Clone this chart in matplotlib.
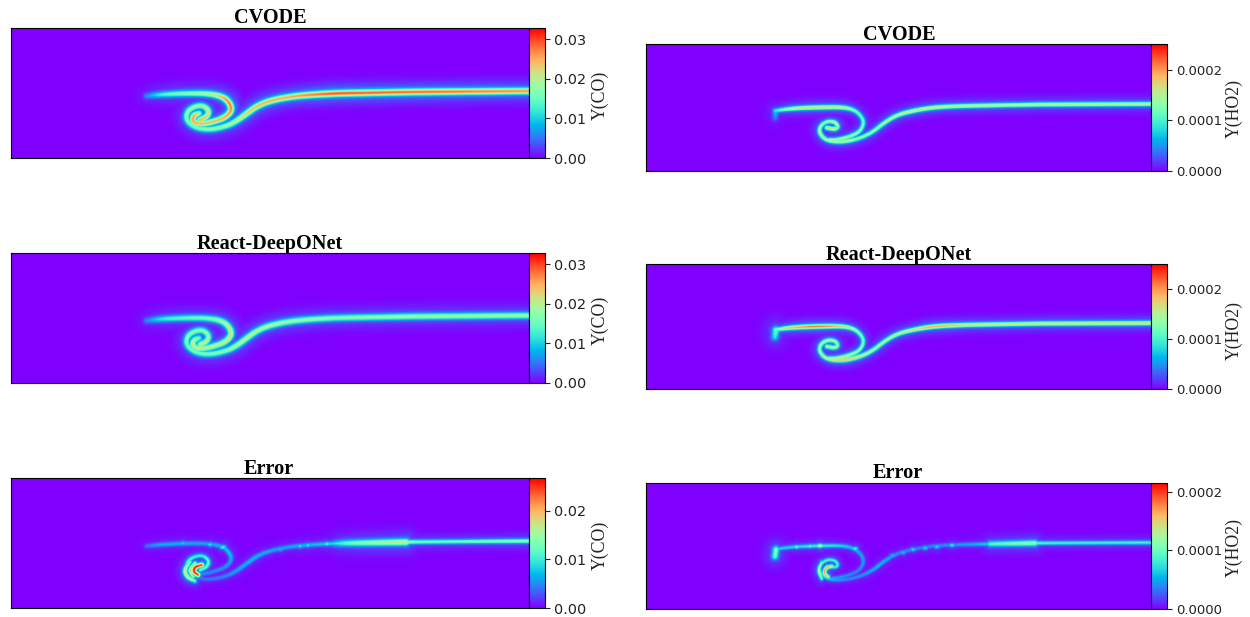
import numpy as np
import matplotlib
matplotlib.use('Agg')
import matplotlib.pyplot as plt

W, H = 1250, 617

# flame centreline, domain units
co_main_x = [518, 420, 399, 395, 332, 319, 299, 279, 259, 246, 236, 226, 216, 199, 184, 175, 176.3, 184, 192.3, 198, 196.3, 189]
co_main_y = [67, 66.2, 66, 65.9, 64.8, 64.3, 63.2, 61.3, 57.3, 52, 44.7, 37.3, 32, 28.2, 30.2, 38, 46.8, 51.8, 52.5, 47.3, 41.3, 38]
co_arm_x = [135.7, 152.3, 179, 199, 212.3, 219, 220.7, 214, 202.3, 192.3, 184, 181.3, 183.3, 188.3]
co_arm_y = [62, 63.7, 64.7, 64.3, 61.2, 54.7, 47.3, 40.3, 36.3, 34, 34.7, 38.7, 43, 44.7]
co_arc1_x = [190.7, 184, 182.3, 187.3]
co_arc1_y = [43, 41.3, 36.3, 33]
co_arc2_x = [179, 173, 176.5, 184]
co_arc2_y = [46, 38, 30.5, 27]
co_arc3_x = [184, 178.3, 182.3]
co_arc3_y = [44.7, 38, 31.3]
co_band_x = [322, 332, 395]
co_band_y = [64.3, 64.8, 65.9]

ho2_main_x = [505, 400, 389, 385, 344, 314, 287.3, 267.3, 250.7, 237.3, 227.3, 214, 197.3, 180.7, 173.3, 174, 180.7, 189, 192.3, 189, 180.7]
ho2_main_y = [67, 66.5, 66.4, 66.3, 65.6, 65, 63.7, 60.3, 56, 47.7, 39.3, 32.7, 29, 30, 37.7, 44.8, 49.8, 49.2, 44.3, 41.7, 43.3]
ho2_arm_x = [129, 147.3, 174, 197.3, 209, 215.7, 218, 214, 204, 190.7, 183]
ho2_arm_y = [60.3, 62.7, 63.7, 63.9, 60.8, 54.3, 47.7, 39.3, 34.3, 31, 31]
ho2_head_x = [129, 130]
ho2_head_y = [53, 60]
ho2_arc1_x = [185.7, 179.7, 178, 182.3]
ho2_arc1_y = [43, 41.7, 35.7, 32.3]
ho2_arc2_x = [175.7, 172.3, 175.7]
ho2_arc2_y = [47.3, 39, 30.7]
ho2_band_x = [344, 389]
ho2_band_y = [65.6, 66.4]

# brighter spots on the error streaks
co_bead_x = [172, 199, 212, 269, 289, 297, 316]
co_bead_y = [64.7, 63.6, 60.8, 58.8, 62, 62.8, 64.2]
co_bead_v = [.009, .010, .012, .008, .010, .010, .012]
ho2_bead_x = [150.7, 164, 174, 209, 247, 257, 267, 279, 291, 306]
ho2_bead_y = [62.6, 63.3, 63.7, 60.8, 54, 57, 60, 61.6, 62.8, 64.4]
ho2_bead_v = [1.1e-4, 1.1e-4, 1.6e-4, 1.0e-4, .7e-4, .7e-4, .8e-4, .8e-4, .8e-4, .9e-4]

# peak values along the centreline
co_cvode_main = [.026, .028, .028, .028, .029, .029, .027, .025, .025, .024, .023, .020, .018, .017, .016, .017, .018, .018, .018, .022, .022, .025]
co_cvode_arm = [.006, .014, .017, .019, .025, .028, .027, .025, .024, .024, .025, .026, .026, .018]
co_react_main = [.018, .018, .018, .018, .017, .017, .018, .018, .019, .019, .020, .019, .017, .016, .016, .016, .017, .017, .017, .018, .020, .021]
co_react_arm = [.006, .013, .015, .016, .019, .021, .022, .021, .020, .020, .021, .021, .020, .015]
co_error_main = [.014, .012, .013, .017, .011, .008, .007, .006, .006, .007, .007, .006, .005, .004, .004, .010, .012, .010, .010, .012, .012, .012]
co_error_arm = [.004, .007, .006, .006, .007, .008, .006, .005, .005, .005, .006, .007, .007, .005]
co_error_arc1 = [.024, .026, .026, .024]
co_error_arc2 = [.012, .017, .018, .012]
co_error_arc3 = [.014, .019, .014]
co_error_band = [.006, .012, .017]

ho2_cvode_main = [1.5e-4, 1.5e-4, 1.5e-4, 1.5e-4, 1.5e-4, 1.5e-4, 1.6e-4, 1.6e-4, 1.5e-4, 1.4e-4, 1.3e-4, 1.3e-4, 1.5e-4, 1.4e-4, 1.5e-4, 1.4e-4, 1.3e-4, 1.5e-4, 1.5e-4, 1.6e-4, 1.6e-4]
ho2_cvode_arm = [.9e-4, 1.6e-4, 1.7e-4, 1.6e-4, 1.2e-4, 1.1e-4, 1.2e-4, 1.3e-4, 1.4e-4, 1.5e-4, 1.5e-4]
ho2_cvode_head = [.4e-4, .8e-4]
ho2_react_main = [1.7e-4, 1.6e-4, 1.6e-4, 1.6e-4, 1.6e-4, 1.7e-4, 2.0e-4, 1.6e-4, 1.5e-4, 1.4e-4, 1.4e-4, 1.6e-4, 1.9e-4, 1.5e-4, 1.4e-4, 1.4e-4, 1.5e-4, 1.4e-4, 1.4e-4, 1.5e-4, 1.5e-4]
ho2_react_arm = [1.2e-4, 1.9e-4, 2.2e-4, 1.7e-4, 1.4e-4, 1.2e-4, 1.2e-4, 1.3e-4, 1.5e-4, 1.6e-4, 1.6e-4]
ho2_react_head = [.9e-4, 1.2e-4]
ho2_error_main = [.9e-4, .85e-4, 1.0e-4, 1.2e-4, .7e-4, .45e-4, .4e-4, .4e-4, .4e-4, .6e-4, .55e-4, .4e-4, .4e-4, .7e-4, .9e-4, 1.0e-4, .9e-4, .9e-4, .9e-4, .9e-4, .9e-4]
ho2_error_arm = [.7e-4, .7e-4, .9e-4, .7e-4, .6e-4, .5e-4, .5e-4, .4e-4, .4e-4, .5e-4, .5e-4]
ho2_error_head = [1.0e-4, 1.1e-4]
ho2_error_arc1 = [1.5e-4, 1.7e-4, 1.7e-4, 1.4e-4]
ho2_error_arc2 = [.9e-4, 1.4e-4, 1.0e-4]
ho2_error_band = [.9e-4, 1.2e-4]

co_ticks = [0, .01, .02, .03]
co_error_ticks = [0, .01, .02]
ho2_ticks = [0, 1e-4, 2e-4]


def smooth(pts, n=3):
    # corner cutting so the read points do not show as a polygon
    for _ in range(n):
        q = 0.75 * pts[:-1] + 0.25 * pts[1:]
        r = 0.25 * pts[:-1] + 0.75 * pts[1:]
        new = np.empty((2 * len(q), pts.shape[1]))
        new[0::2] = q
        new[1::2] = r
        pts = np.vstack([pts[0], new, pts[-1]])
    return pts


def field(width, height, curves, sigma):
    gx, gy = np.meshgrid(np.arange(width) + .5, np.arange(height) + .5)
    z = np.zeros_like(gx)
    for curve in curves:
        cx, cy, peak = curve[:3]
        sig = sigma * (curve[3] if len(curve) > 3 else 1)
        pts = smooth(np.column_stack([cx, cy, peak]))
        seg = np.hypot(*np.diff(pts[:, :2], axis=0).T)
        s = np.r_[0, np.cumsum(seg)]
        t = np.arange(0, s[-1], .5)
        for x0, y0, p in zip(np.interp(t, s, pts[:, 0]), np.interp(t, s, pts[:, 1]), np.interp(t, s, pts[:, 2])):
            i0, i1 = max(int(x0) - 26, 0), min(int(x0) + 27, width)
            j0, j1 = max(int(y0) - 26, 0), min(int(y0) + 27, height)
            d2 = (gx[j0:j1, i0:i1] - x0) ** 2 + (gy[j0:j1, i0:i1] - y0) ** 2
            v = p * (.84 * np.exp(-d2 / (2 * sig ** 2)) + .16 * np.exp(-d2 / (2 * (3.5 * sig) ** 2)))
            z[j0:j1, i0:i1] = np.maximum(z[j0:j1, i0:i1], v)
    return z


def beads(xs, ys, vals):
    return [([x - 2, x, x + 2], [y, y, y], [v * .6, v, v * .6]) for x, y, v in zip(xs, ys, vals)]


fig = plt.figure(figsize=(W / 100, H / 100), dpi=100, facecolor='white')
serif = 'Liberation Serif'


def panel(x0, x1, top, bottom, cb_right, title, title_x, title_y, curves, vmax, ticks, fmt, label, label_x, label_y, tick_size, dom_w, dom_h, sigma):
    ax = fig.add_axes([x0 / W, 1 - bottom / H, (x1 - x0) / W, (bottom - top) / H])
    z = field(dom_w, dom_h, curves, sigma)
    im = ax.imshow(z, origin='lower', cmap='rainbow', vmin=0, vmax=vmax, aspect='auto',
                   extent=[0, dom_w, 0, dom_h], interpolation='bilinear')
    ax.set_xticks([])
    ax.set_yticks([])
    cax = fig.add_axes([x1 / W, 1 - bottom / H, (cb_right - x1) / W, (bottom - top) / H])
    cb = fig.colorbar(im, cax=cax, format=fmt)
    cb.set_ticks(ticks)
    cax.tick_params(labelsize=tick_size, length=3.5, width=.8, colors='#222222', pad=3)
    cb.set_label(label, family=serif, fontsize=12.8, color='#222222')
    cax.yaxis.set_label_coords((label_x - x1) / (cb_right - x1), label_y)
    fig.text(title_x / W, 1 - title_y / H, title, family=serif, fontweight='bold', fontsize=14.6,
             ha='center', va='center', color='black')


co_cvode = [(co_main_x, co_main_y, co_cvode_main), (co_arm_x, co_arm_y, co_cvode_arm)]
co_react = [(co_main_x, co_main_y, co_react_main), (co_arm_x, co_arm_y, co_react_arm)]
co_error = [(co_main_x, co_main_y, co_error_main), (co_arm_x, co_arm_y, co_error_arm),
            (co_arc1_x, co_arc1_y, co_error_arc1), (co_arc2_x, co_arc2_y, co_error_arc2),
            (co_arc3_x, co_arc3_y, co_error_arc3), (co_band_x, co_band_y, co_error_band, 1.5)]
co_error += beads(co_bead_x, co_bead_y, co_bead_v)
ho2_cvode = [(ho2_main_x, ho2_main_y, ho2_cvode_main), (ho2_arm_x, ho2_arm_y, ho2_cvode_arm),
             (ho2_head_x, ho2_head_y, ho2_cvode_head, 1.3)]
ho2_react = [(ho2_main_x, ho2_main_y, ho2_react_main), (ho2_arm_x, ho2_arm_y, ho2_react_arm),
             (ho2_head_x, ho2_head_y, ho2_react_head, 1.6)]
ho2_error = [(ho2_main_x, ho2_main_y, ho2_error_main), (ho2_arm_x, ho2_arm_y, ho2_error_arm),
             (ho2_head_x, ho2_head_y, ho2_error_head, 1.7), (ho2_arc1_x, ho2_arc1_y, ho2_error_arc1),
             (ho2_arc2_x, ho2_arc2_y, ho2_error_arc2), (ho2_band_x, ho2_band_y, ho2_error_band, 1.5)]
ho2_error += beads(ho2_bead_x, ho2_bead_y, ho2_bead_v)

panel(11, 529, 28, 158, 545, 'CVODE', 270, 18, co_cvode, .0328, co_ticks, '%.2f', 'Y(CO)', 591, .485, 10.4, 518, 130, 2.2)
panel(11, 529, 253, 383, 545, 'React-DeepONet', 270, 244, co_react, .0328, co_ticks, '%.2f', 'Y(CO)', 591, .485, 10.4, 518, 130, 2.2)
panel(11, 529, 478, 608, 545, 'Error', 269, 469, co_error, .0267, co_error_ticks, '%.2f', 'Y(CO)', 591, .485, 10.4, 518, 130, 1.6)
panel(646, 1151, 44, 171, 1167, 'CVODE', 899, 35, ho2_cvode, 2.51e-4, ho2_ticks, '%.4f', 'Y(HO2)', 1225, .49, 9.5, 505, 127, 1.6)
panel(646, 1151, 264, 389, 1167, 'React-DeepONet', 899, 255, ho2_react, 2.5e-4, ho2_ticks, '%.4f', 'Y(HO2)', 1225, .47, 9.5, 505, 127, 1.6)
panel(646, 1151, 483, 609, 1167, 'Error', 898, 473, ho2_error, 2.15e-4, ho2_ticks, '%.4f', 'Y(HO2)', 1225, .49, 9.5, 505, 127, 1.35)

fig.savefig('out.png', dpi=100)
